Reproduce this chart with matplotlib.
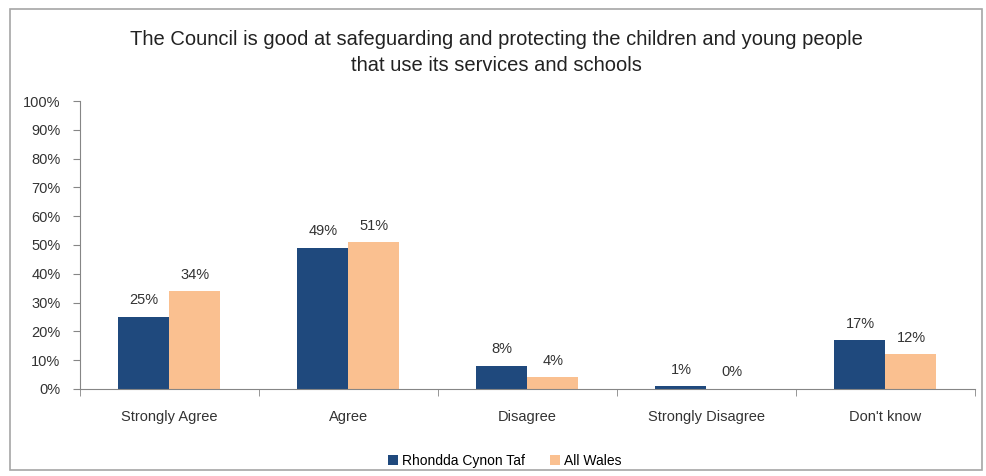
import numpy as np
import matplotlib.pyplot as plt
from matplotlib.patches import Rectangle

categories = ['Strongly Agree', 'Agree', 'Disagree', 'Strongly Disagree', "Don't know"]
rct = [25, 49, 8, 1, 17]
wales = [34, 51, 4, 0, 12]
series_names = ['Rhondda Cynon Taf', 'All Wales']

navy = '#1F497D'
peach = '#FAC090'
grey = '#868686'

plt.rcParams['font.family'] = ['Liberation Sans', 'DejaVu Sans']

fig = plt.figure(figsize=(9.86, 4.76), dpi=100)
ax = fig.add_axes([0.0811, 0.1828, 0.9077, 0.605])

x = np.arange(len(categories))
width = 0.285
b1 = ax.bar(x - width/2, rct, width, color=navy, label=series_names[0])
b2 = ax.bar(x + width/2, wales, width, color=peach, label=series_names[1])

for bars, vals in ((b1, rct), (b2, wales)):
    for r, v in zip(bars, vals):
        ax.text(r.get_x() + r.get_width()/2, v + 3.3, f'{v}%', ha='center', va='bottom',
                fontsize=10.5, color='#333333')

ax.set_xlim(-0.5, len(categories) - 0.5)
ax.set_ylim(0, 100)
ax.set_yticks(np.arange(0, 101, 10))
ax.set_yticklabels([f'{t}%' for t in range(0, 101, 10)], fontsize=10.5, color='#333333')
ax.set_xticks(x)
ax.set_xticklabels(categories, fontsize=10.5, color='#333333')
ax.tick_params(axis='x', length=0, pad=15)
ax.set_xticks(np.arange(-0.5, len(categories)), minor=True)
ax.tick_params(axis='x', which='minor', length=5, color=grey)
ax.tick_params(axis='y', length=5, color=grey, pad=9)

for s in ('top', 'right'):
    ax.spines[s].set_visible(False)
for s in ('left', 'bottom'):
    ax.spines[s].set_color(grey)

fig.text(0.503, 0.889, 'The Council is good at safeguarding and protecting the children and young people\nthat use its services and schools',
         ha='center', va='center', fontsize=14.5, color='#222222', linespacing=1.45)

ax.legend(loc='center', bbox_to_anchor=(0.475, -0.25), ncol=2, frameon=False, fontsize=10,
          handlelength=0.7, handleheight=0.7, handletextpad=0.3, columnspacing=1.8)

fig.patches.append(Rectangle((0.010, 0.012), 0.986, 0.97, transform=fig.transFigure,
                             fill=False, edgecolor='#A6A6A6', linewidth=1.2))

fig.savefig('out.png', dpi=100)
